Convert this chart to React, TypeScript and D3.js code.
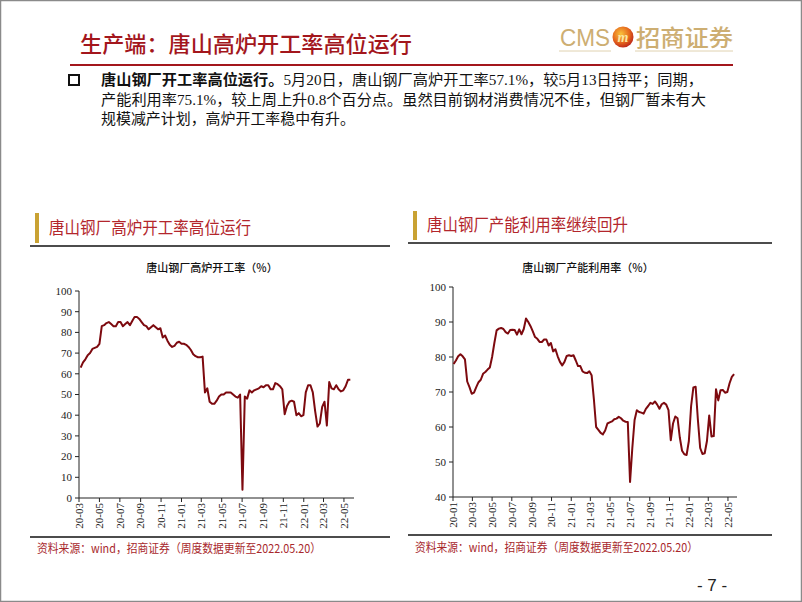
import React from 'react';
import * as d3 from 'd3';

// ---------- DATA ----------
const leftStart = '2020-03-06';
const leftValues = [
  63, 65.5, 67, 69, 70, 72, 72.5, 73, 74.5, 83,
  83.5, 84.5, 85, 84, 83, 83, 85, 85, 83, 84,
  85, 83.5, 85.5, 87.5, 87.5, 86.5, 85, 83.5, 83, 81.5,
  82.5, 83.5, 82.5, 81.5, 82, 77.5, 78.5, 76, 74, 73,
  73.5, 75, 75.5, 74.5, 74.5, 74, 73, 71.5, 69.5, 68.5,
  68, 68, 68.3, 51, 53, 46.5, 45.5, 45.5, 47, 49,
  50, 50, 51, 51, 51, 50, 49, 48.5, 50, 4,
  49, 48, 52, 51, 52, 52.5, 53, 54, 53.5, 54.5,
  54.5, 52.5, 52.5, 55.5, 55, 54, 52.5, 40.5, 44.5, 46.5,
  47, 46.5, 40, 41, 39.5, 40, 51, 54.5, 54.5, 51,
  42, 34.5, 36, 44, 46.5, 35, 56, 53, 52.5, 54.5,
  52.5, 51.5, 52, 54, 57.1, 57.1,
];
const rightStart = '2020-01-03';
const rightValues = [
  78, 79, 80.2, 80.8, 80.2, 79.3, 73, 71.4, 69.5, 69.8,
  71.4, 72.8, 73.5, 75.2, 75.7, 76.4, 77, 80, 84, 87.6,
  88.1, 88.3, 88, 87.1, 86.7, 87.7, 87.8, 87.7, 86.4, 87.9,
  86.5, 88, 91, 90, 88.8, 87.3, 85.7, 85.2, 84.3, 84.3,
  85, 85, 83.3, 84, 81.6, 82.2, 80.2, 78.6, 77.6, 78.6,
  80.3, 80.5, 80.3, 80.5, 79, 77.4, 77.4, 75.9, 75.5, 75.4,
  75.9, 74.8, 68, 60, 59.2, 58.3, 57.9, 59, 61, 61.3,
  61.6, 62.2, 62.4, 62.9, 62.5, 61.8, 61.5, 61.4, 44.3, 54,
  62, 64.8, 64.3, 64.1, 63.8, 65.2, 66, 66.9, 66.6, 67.3,
  66.4, 65.2, 66.5, 66.9, 66.4, 64.8, 56.2, 61, 63, 62.5,
  57, 53.2, 52.2, 52, 56, 66, 71.3, 71.5, 62, 54,
  52.3, 52.5, 56, 63.3, 57.3, 57.4, 70.8, 67.6, 70.5, 70.6,
  69.8, 70, 72.5, 74.3, 75.1,
];
const leftYTicks = [0, 10, 20, 30, 40, 50, 60, 70, 80, 90, 100];
const rightYTicks = [40, 50, 60, 70, 80, 90, 100];
const leftXTicks = ['20-03', '20-05', '20-07', '20-09', '20-11', '21-01', '21-03', '21-05', '21-07', '21-09', '21-11', '22-01', '22-03', '22-05'];
const rightXTicks = ['20-01', '20-03', '20-05', '20-07', '20-09', '20-11', '21-01', '21-03', '21-05', '21-07', '21-09', '21-11', '22-01', '22-03', '22-05'];

const pageTitle = '生产端：唐山高炉开工率高位运行';
const bulletLead = '唐山钢厂开工率高位运行。';
const bulletLine1 = '5月20日，唐山钢厂高炉开工率57.1%，较5月13日持平；同期，';
const bulletLine2 = '产能利用率75.1%，较上周上升0.8个百分点。虽然目前钢材消费情况不佳，但钢厂暂未有大';
const bulletLine3 = '规模减产计划，高炉开工率稳中有升。';
const leftHeader = '唐山钢厂高炉开工率高位运行';
const rightHeader = '唐山钢厂产能利用率继续回升';
const leftSub = '唐山钢厂高炉开工率（%）';
const rightSub = '唐山钢厂产能利用率（%）';
const sourceText = '资料来源：wind，招商证券（周度数据更新至2022.05.20）';

// ---------- HELPERS ----------
const parseDay = d3.timeParse('%Y-%m-%d');
const parseTick = (t: string) => d3.timeParse('%y-%m')(t) as Date;
const weekly = (start: string, vals: number[]) => {
  const s = parseDay(start) as Date;
  return vals.map((v, i) => ({ date: d3.timeDay.offset(s, 7 * i), v }));
};

const LINE = '#7d0a0f';
const SERIF = '"Liberation Serif", "Times New Roman", serif';
const CJK = '"Liberation Serif", "Noto Sans CJK SC", serif';
const SANS_CJK = '"Noto Sans CJK SC", sans-serif';

type ChartProps = {
  start: string;
  values: number[];
  xDomain: [string, string];
  xRange: [number, number];
  yDomain: [number, number];
  yRange: [number, number];
  yTicks: number[];
  xTicks: string[];
};

function LineChart({ start, values, xDomain, xRange, yDomain, yRange, yTicks, xTicks }: ChartProps) {
  const data = weekly(start, values);
  const x = d3.scaleTime().domain([parseDay(xDomain[0]) as Date, parseDay(xDomain[1]) as Date]).range(xRange);
  const y = d3.scaleLinear().domain(yDomain).range(yRange);
  const line = d3
    .line<{ date: Date; v: number }>()
    .x((d) => x(d.date))
    .y((d) => y(d.v));
  const x0 = xRange[0];
  const yB = yRange[0];
  return (
    <g>
      <line x1={x0} x2={x0} y1={yRange[1]} y2={yB} stroke="#222" strokeWidth={1} />
      <line x1={x0} x2={xRange[1]} y1={yB} y2={yB} stroke="#222" strokeWidth={1} />
      {yTicks.map((t) => (
        <g key={t}>
          <line x1={x0 - 4} x2={x0} y1={y(t)} y2={y(t)} stroke="#222" />
          <text x={x0 - 7} y={y(t)} dy="0.35em" textAnchor="end" fontFamily={SERIF} fontSize={11} fill="#222">
            {t}
          </text>
        </g>
      ))}
      {xTicks.map((t) => {
        const xp = x(parseTick(t));
        return (
          <g key={t}>
            <line x1={xp} x2={xp} y1={yB} y2={yB + 4} stroke="#222" />
            <text
              transform={`translate(${xp},${yB + 5}) rotate(-90)`}
              dy="0.35em"
              textAnchor="end"
              fontFamily={SERIF}
              fontSize={11}
              fill="#222"
            >
              {t}
            </text>
          </g>
        );
      })}
      <path d={line(data) || ''} fill="none" stroke={LINE} strokeWidth={2} strokeLinejoin="round" />
    </g>
  );
}

export default function App() {
  return (
    <svg
      width={802}
      height={602}
      style={{ position: 'absolute', left: 0, top: 0, background: '#fff' }}
      xmlns="http://www.w3.org/2000/svg"
    >
      <defs>
        <radialGradient id="logoG" cx="40%" cy="35%" r="70%">
          <stop offset="0%" stopColor="#f9c23c" />
          <stop offset="60%" stopColor="#e5661c" />
          <stop offset="100%" stopColor="#b8201a" />
        </radialGradient>
      </defs>
      <rect x={0} y={0} width={802} height={602} fill="#fff" />
      <rect x={0.5} y={0.5} width={801} height={601} fill="none" stroke="#8a8a8a" strokeWidth={1.5} />

      {/* Page title */}
      <text x={80} y={52} fontFamily={SANS_CJK} fontSize={22} fontWeight={500} fill="#a3161c" textLength={332} lengthAdjust="spacingAndGlyphs">
        {pageTitle}
      </text>
      {/* Logo */}
      <text x={560} y={46} fontFamily='"Liberation Sans", Arial, sans-serif' fontSize={24} fill="#cdae72" textLength={50} lengthAdjust="spacingAndGlyphs">
        CMS
      </text>
      <line x1={559} x2={611} y1={51} y2={51} stroke="#e0d2b0" strokeWidth={1} />
      <circle cx={623} cy={37} r={10.5} fill="url(#logoG)" />
      <text x={623} y={42} textAnchor="middle" fontFamily={SERIF} fontStyle="italic" fontWeight="bold" fontSize={14} fill="#fbe7a0">
        m
      </text>
      <text x={636} y={46} fontFamily={SANS_CJK} fontSize={23} fontWeight={500} fill="#cdae72" textLength={97} lengthAdjust="spacingAndGlyphs">
        招商证券
      </text>
      <line x1={635} x2={733} y1={51} y2={51} stroke="#e0d2b0" strokeWidth={1} />
      <line x1={70} x2={733} y1={65} y2={65} stroke="#a3161c" strokeWidth={2} />

      {/* Bullet text */}
      <rect x={69} y={75} width={10} height={10} fill="none" stroke="#111" strokeWidth={2} />
      <text x={101} y={85} fontFamily={CJK} fontSize={15} fill="#111" textLength={602} lengthAdjust="spacingAndGlyphs">
        <tspan fontWeight="bold" fontFamily={SANS_CJK}>{bulletLead}</tspan>
        <tspan>{bulletLine1}</tspan>
      </text>
      <text x={101} y={105} fontFamily={CJK} fontSize={15} fill="#111" textLength={605} lengthAdjust="spacingAndGlyphs">
        {bulletLine2}
      </text>
      <text x={101} y={124} fontFamily={CJK} fontSize={15} fill="#111" textLength={254} lengthAdjust="spacingAndGlyphs">
        {bulletLine3}
      </text>

      {/* Left section header */}
      <rect x={35} y={213} width={4} height={30} fill="#c9a233" />
      <text x={49} y={234} fontFamily={SANS_CJK} fontSize={17} fill="#b3262c" textLength={202} lengthAdjust="spacingAndGlyphs">
        {leftHeader}
      </text>
      <line x1={30} x2={390} y1={246} y2={246} stroke="#111" strokeWidth={1.5} />
      <text x={212} y={272} textAnchor="middle" fontFamily={SANS_CJK} fontSize={11} fontWeight={500} fill="#111">
        {leftSub}
      </text>

      {/* Right section header */}
      <rect x={413} y={211} width={4} height={29} fill="#c9a233" />
      <text x={427} y={231} fontFamily={SANS_CJK} fontSize={17} fill="#b3262c" textLength={201} lengthAdjust="spacingAndGlyphs">
        {rightHeader}
      </text>
      <line x1={408} x2={772} y1={243} y2={243} stroke="#111" strokeWidth={1.5} />
      <text x={588} y={272} textAnchor="middle" fontFamily={SANS_CJK} fontSize={11} fontWeight={500} fill="#111">
        {rightSub}
      </text>

      {/* Charts */}
      <LineChart
        start={leftStart}
        values={leftValues}
        xDomain={['2020-03-01', '2022-05-31']}
        xRange={[79, 354]}
        yDomain={[0, 100]}
        yRange={[498, 291]}
        yTicks={leftYTicks}
        xTicks={leftXTicks}
      />
      <LineChart
        start={rightStart}
        values={rightValues}
        xDomain={['2020-01-01', '2022-05-29']}
        xRange={[453, 737]}
        yDomain={[40, 100]}
        yRange={[497, 287]}
        yTicks={rightYTicks}
        xTicks={rightXTicks}
      />

      {/* Footers */}
      <line x1={30} x2={390} y1={537} y2={537} stroke="#111" strokeWidth={1.5} />
      <line x1={408} x2={772} y1={535} y2={535} stroke="#111" strokeWidth={1.5} />
      <text x={37} y={553} fontFamily={SANS_CJK} fontSize={12} fill="#a8282c" textLength={284} lengthAdjust="spacingAndGlyphs">
        {sourceText}
      </text>
      <text x={415} y={552} fontFamily={SANS_CJK} fontSize={12} fill="#a8282c" textLength={283} lengthAdjust="spacingAndGlyphs">
        {sourceText}
      </text>
      <text x={712} y={591} textAnchor="middle" fontFamily='"Liberation Sans", Arial, sans-serif' fontSize={17} fill="#222">
        - 7 -
      </text>
    </svg>
  );
}
